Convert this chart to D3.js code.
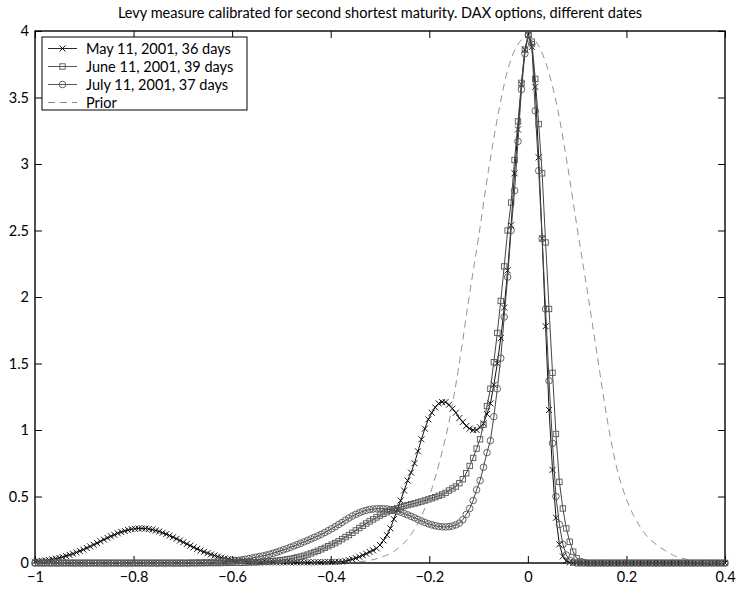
<!DOCTYPE html>
<html><head><meta charset="utf-8">
<script src="https://cdn.jsdelivr.net/npm/d3@7"></script>
<style>
body{margin:0;background:#fff}
text{font-family:Lato,"Open Sans",sans-serif;fill:#000}
</style>
</head><body>
<svg id="c" width="737" height="589"></svg>
<script>
const titleText = "Levy measure calibrated for second shortest maturity. DAX options, different dates";
const xTicks = [-1,-0.8,-0.6,-0.4,-0.2,0,0.2,0.4];
const yTicks = [0,0.5,1,1.5,2,2.5,3,3.5,4];
const seriesNames = ["May 11, 2001, 36 days","June 11, 2001, 39 days","July 11, 2001, 37 days","Prior"];
// calibrated grid: x = -1 + 0.007*i, i = 0..200
const xStart = -1, xStep = 0.007, nPts = 201;
const may = [
0.011,0.013,0.016,0.019,0.023,0.028,0.033,0.039,0.045,0.053,
0.061,0.070,0.079,0.090,0.101,0.113,0.125,0.137,0.150,0.163,
0.176,0.189,0.201,0.212,0.223,0.233,0.241,0.248,0.254,0.257,
0.260,0.260,0.259,0.255,0.251,0.244,0.237,0.227,0.217,0.206,
0.194,0.182,0.169,0.156,0.143,0.130,0.118,0.106,0.094,0.084,
0.074,0.064,0.056,0.048,0.041,0.035,0.030,0.025,0.021,0.017,
0.014,0.012,0.009,0.008,0.006,0.005,0.005,0.005,0.005,0.005,
0.005,0.005,0.005,0.005,0.005,0.005,0.005,0.005,0.005,0.005,
0.005,0.005,0.006,0.006,0.006,0.007,0.007,0.008,0.009,0.010,
0.015,0.021,0.028,0.037,0.047,0.058,0.070,0.083,0.095,0.110,
0.135,0.17,0.21,0.26,0.33,0.40,0.47,0.545,0.62,0.68,
0.75,0.84,0.93,1.01,1.08,1.13,1.17,1.20,1.21,1.21,
1.19,1.16,1.13,1.09,1.06,1.03,1.01,1.00,1.00,1.02,
1.05,1.12,1.20,1.34,1.50,1.69,1.92,2.20,2.54,2.93,
3.26,3.60,3.86,3.97,3.88,3.58,3.05,2.44,1.78,1.15,
0.70,0.34,0.14,0.05,0.015,0.004,0,0,0,0,
0,0,0,0,0,0,0,0,0,0,
0,0,0,0,0,0,0,0,0,0,
0,0,0,0,0,0,0,0,0,0,
0,0,0,0,0,0,0,0,0,0,
0];
const june = [
0,0,0,0,0,0,0,0,0,0,
0,0,0,0,0,0,0,0,0,0,
0,0,0,0,0,0,0,0,0,0,
0,0,0,0,0,0,0,0,0,0,
0,0,0,0,0,0,0,0,0,0,
0,0,0,0,0,0.001,0.001,0.001,0.002,0.002,
0.002,0.003,0.004,0.005,0.006,0.007,0.009,0.011,0.013,0.015,
0.017,0.020,0.023,0.027,0.031,0.036,0.042,0.048,0.055,0.063,
0.072,0.082,0.092,0.103,0.114,0.126,0.138,0.150,0.164,0.180,
0.195,0.210,0.227,0.245,0.263,0.280,0.297,0.313,0.328,0.343,
0.357,0.370,0.382,0.393,0.403,0.412,0.420,0.428,0.435,0.442,
0.448,0.455,0.462,0.470,0.478,0.487,0.495,0.505,0.515,0.527,
0.545,0.560,0.575,0.600,0.630,0.675,0.730,0.790,0.860,0.930,
1.04,1.18,1.31,1.51,1.73,1.97,2.23,2.50,2.71,3.03,
3.32,3.61,3.86,3.97,3.92,3.64,3.30,2.93,2.41,1.91,
1.43,0.97,0.61,0.41,0.26,0.16,0.085,0.035,0.012,0.004,
0,0,0,0,0,0,0,0,0,0,
0,0,0,0,0,0,0,0,0,0,
0,0,0,0,0,0,0,0,0,0,
0,0,0,0,0,0,0,0,0,0,
0];
const july = [
0,0,0,0,0,0,0,0,0,0,
0,0,0,0,0,0,0,0,0,0,
0,0,0,0,0,0,0,0,0,0,
0,0,0,0,0,0,0,0,0,0,
0,0,0,0,0,0.001,0.001,0.002,0.002,0.003,
0.004,0.005,0.006,0.007,0.008,0.010,0.012,0.014,0.017,0.020,
0.024,0.028,0.033,0.038,0.043,0.048,0.053,0.059,0.066,0.073,
0.081,0.090,0.099,0.108,0.118,0.128,0.138,0.148,0.159,0.170,
0.181,0.192,0.204,0.216,0.229,0.243,0.258,0.273,0.289,0.305,
0.322,0.338,0.353,0.366,0.378,0.388,0.396,0.402,0.406,0.408,
0.409,0.408,0.406,0.402,0.397,0.390,0.382,0.372,0.362,0.351,
0.340,0.328,0.316,0.305,0.295,0.287,0.280,0.275,0.272,0.271,
0.273,0.278,0.287,0.300,0.325,0.365,0.410,0.470,0.550,0.620,
0.72,0.83,0.92,1.10,1.31,1.54,1.85,2.15,2.50,2.80,
3.17,3.56,3.83,3.97,3.90,3.40,2.95,2.44,1.91,1.37,
0.90,0.50,0.29,0.14,0.06,0.02,0.006,0,0,0,
0,0,0,0,0,0,0,0,0,0,
0,0,0,0,0,0,0,0,0,0,
0,0,0,0,0,0,0,0,0,0,
0,0,0,0,0,0,0,0,0,0,
0];
// prior on grid x = -1 + 0.02*i, i = 0..70
const priorStart = -1, priorStep = 0.02;
const prior = [
0,0,0,0,0,0,0,0,0,0,
0,0,0,0,0,0,0,0,0,0,
0,0,0,0,0,0,0,0,0,0,
0.001,0.002,0.005,0.01,0.02,0.04,0.07,0.12,0.20,0.32,
0.50,0.75,1.06,1.48,1.98,2.45,2.95,3.38,3.72,3.90,
3.96,3.90,3.72,3.42,3.00,2.52,2.06,1.58,1.10,0.72,
0.48,0.32,0.21,0.14,0.09,0.05,0.03,0.015,0.008,0.004,
0.002];

const xGrid = d3.range(nPts).map(i => xStart + i*xStep);
const priorX = d3.range(prior.length).map(i => priorStart + i*priorStep);

const svg = d3.select("#c");
const L=35, R=725, T=31, B=563;
const x = d3.scaleLinear().domain([-1,0.4]).range([L,R]);
const y = d3.scaleLinear().domain([0,4]).range([B,T]);
const fmt = d => (d<0 ? "\u2212" : "") + String(Math.abs(d));
const FONT = "Lato,'Open Sans',sans-serif";

svg.append("rect").attr("width",737).attr("height",589).attr("fill","#fff");

// title
svg.append("text").attr("x",(L+R)/2).attr("y",18).attr("text-anchor","middle")
  .style("font-size","14.5px").text(titleText);

// axes
const gx = svg.append("g").attr("transform",`translate(0,${B})`)
  .call(d3.axisBottom(x).tickValues(xTicks).tickFormat(fmt).tickSize(-7).tickSizeOuter(0).tickPadding(9));
const gy = svg.append("g").attr("transform",`translate(${L},0)`)
  .call(d3.axisLeft(y).tickValues(yTicks).tickFormat(fmt).tickSize(-7).tickSizeOuter(0).tickPadding(6));
const gt = svg.append("g").attr("transform",`translate(0,${T})`)
  .call(d3.axisTop(x).tickValues(xTicks).tickFormat("").tickSize(-7).tickSizeOuter(0));
const gr = svg.append("g").attr("transform",`translate(${R},0)`)
  .call(d3.axisRight(y).tickValues(yTicks).tickFormat("").tickSize(-7).tickSizeOuter(0));
[gx,gy,gt,gr].forEach(g=>{
  g.select(".domain").remove();
  g.selectAll(".tick line").attr("stroke","#000").attr("stroke-width",1);
  g.selectAll(".tick text").style("font-family",FONT).style("font-size","14.5px").attr("fill","#000");
});
svg.append("rect").attr("x",L).attr("y",T).attr("width",R-L).attr("height",B-T)
  .attr("fill","none").attr("stroke","#000").attr("stroke-width",1.4);

// marker drawing
function addMarker(g, type, cx, cy, color){
  if(type==="x"){
    const h=3;
    g.append("path").attr("d",`M${cx-h},${cy-h}L${cx+h},${cy+h}M${cx-h},${cy+h}L${cx+h},${cy-h}`)
      .attr("stroke",color).attr("stroke-width",0.9).attr("fill","none");
  } else if(type==="s"){
    const h=2.7;
    g.append("rect").attr("x",cx-h).attr("y",cy-h).attr("width",2*h).attr("height",2*h)
      .attr("stroke",color).attr("stroke-width",0.9).attr("fill","none");
  } else if(type==="o"){
    g.append("circle").attr("cx",cx).attr("cy",cy).attr("r",3.3)
      .attr("stroke",color).attr("stroke-width",0.9).attr("fill","none");
  }
}

const series = [
  {data: may,  color:"#000", line:"#111", marker:"x"},
  {data: june, color:"#555", line:"#444", marker:"s"},
  {data: july, color:"#555", line:"#444", marker:"o"}
];
const lineGen = d3.line().x((d,i)=>x(xGrid[i])).y(d=>y(d));
series.forEach(s=>{
  svg.append("path").attr("d",lineGen(s.data)).attr("fill","none")
    .attr("stroke",s.line).attr("stroke-width",1);
  const g = svg.append("g");
  s.data.forEach((v,i)=>addMarker(g, s.marker, x(xGrid[i]), y(v), s.color));
});
// prior
const priorLine = d3.line().x((d,i)=>x(priorX[i])).y(d=>y(d)).curve(d3.curveMonotoneX);
svg.append("path").attr("d",priorLine(prior)).attr("fill","none")
  .attr("stroke","#777").attr("stroke-width",0.8).attr("stroke-dasharray","7,5");

// legend
const lg = svg.append("g");
lg.append("rect").attr("x",42).attr("y",37).attr("width",205).attr("height",73)
  .attr("fill","#fff").attr("stroke","#000").attr("stroke-width",1);
const rowsY = [48.5,66.5,84.5,102.5];
const legendStyles = [
  {line:"#111", color:"#000", marker:"x", dash:null},
  {line:"#444", color:"#555", marker:"s", dash:null},
  {line:"#444", color:"#555", marker:"o", dash:null},
  {line:"#777", color:"#777", marker:null, dash:"7,5"}
];
seriesNames.forEach((name,k)=>{
  const st = legendStyles[k], yy = rowsY[k];
  const p = lg.append("line").attr("x1",48).attr("x2",77).attr("y1",yy).attr("y2",yy)
    .attr("stroke",st.line).attr("stroke-width",0.9);
  if(st.dash) p.attr("stroke-dasharray",st.dash);
  if(st.marker) addMarker(lg, st.marker, 62.5, yy, st.color);
  lg.append("text").attr("x",86).attr("y",yy+5).style("font-size","14.5px").text(name);
});
</script>
</body></html>
